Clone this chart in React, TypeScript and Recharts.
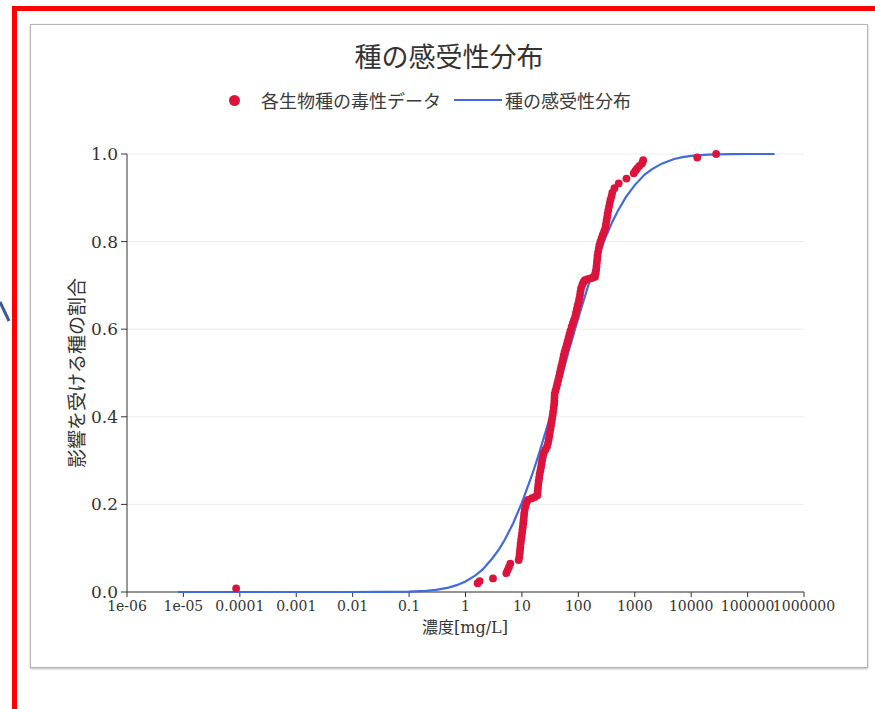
import React from 'react';
import {
  ScatterChart,
  Scatter,
  XAxis,
  YAxis,
  CartesianGrid,
  Legend,
} from 'recharts';

// ---- data ----
const xTicks = [1e-6, 1e-5, 1e-4, 1e-3, 0.01, 0.1, 1, 10, 100, 1000, 10000, 100000, 1000000];
const xTickLabels = ['1e-06', '1e-05', '0.0001', '0.001', '0.01', '0.1', '1', '10', '100', '1000', '10000', '100000', '1000000'];
const yTicks = [0, 0.2, 0.4, 0.6, 0.8, 1.0];
const yTickLabels = ['0.0', '0.2', '0.4', '0.6', '0.8', '1.0'];

const toxConc = [
  0.000086, 1.64, 1.78, 3.07, 5.29, 5.58, 5.9, 6.23, 8.75, 9.0, 9.12, 9.25, 9.38, 9.5, 9.68, 9.85,
  10.05, 10.2, 10.4, 10.55, 10.7, 10.85, 11.0, 11.2, 11.5, 12.0, 12.8, 15.0, 17.0, 18.8,
  19.0, 19.2, 19.5, 19.8, 20.2, 20.6, 21.2, 21.8, 22.3, 22.8, 23.5, 24.3, 26.0, 27.9,
  29.0, 29.8, 30.5, 31.2, 32.0, 32.8, 33.6, 34.4, 35.1, 35.8, 36.5, 37.2, 37.6, 37.8,
  38.0, 39.5, 41.0, 42.5, 44.0, 45.5, 47.0, 48.5, 50.0, 52.0, 53.5, 55.0, 57.0, 59.5,
  62.0, 64.5, 67.0, 69.5, 72.3, 76.0, 80.0, 84.0, 88.6, 91.0, 94.0, 97.0, 101, 104, 107,
  109, 112, 118, 124, 130, 145, 164, 182, 197, 203, 207, 210, 213, 216, 219, 224, 230,
  236, 246, 258, 272, 287, 302, 309, 316, 324, 331, 340, 350, 360, 372, 388, 400, 436,
  520, 712, 959, 1028, 1102, 1211, 1352, 1409, 12790, 27700,
];
const toxFrac = [
  0.008, 0.02, 0.025, 0.031, 0.043, 0.05, 0.057, 0.065, 0.073, 0.08, 0.088, 0.095, 0.103, 0.111, 0.119, 0.126,
  0.134, 0.142, 0.149, 0.157, 0.164, 0.172, 0.18, 0.188, 0.195, 0.203, 0.21, 0.214, 0.217, 0.221,
  0.229, 0.237, 0.245, 0.253, 0.261, 0.269, 0.277, 0.285, 0.293, 0.301, 0.309, 0.317, 0.325, 0.332,
  0.34, 0.348, 0.356, 0.364, 0.372, 0.38, 0.388, 0.396, 0.404, 0.412, 0.42, 0.428, 0.436, 0.444,
  0.452, 0.46, 0.468, 0.476, 0.484, 0.492, 0.5, 0.508, 0.516, 0.524, 0.532, 0.54, 0.548, 0.556,
  0.564, 0.572, 0.58, 0.588, 0.596, 0.606, 0.614, 0.622, 0.63, 0.638, 0.646, 0.654, 0.662, 0.67, 0.678,
  0.686, 0.694, 0.702, 0.708, 0.712, 0.714, 0.716, 0.718, 0.72, 0.728, 0.736, 0.744, 0.752, 0.76, 0.768, 0.776, 0.784,
  0.792, 0.8, 0.808, 0.816, 0.824, 0.832, 0.84, 0.848, 0.856, 0.864, 0.872, 0.88, 0.888, 0.896, 0.904, 0.912, 0.922,
  0.933, 0.944, 0.956, 0.962, 0.967, 0.973, 0.979, 0.986, 0.992, 1.0,
];

const curveConc = [
  0.000008, 0.0001, 0.001, 0.01, 0.03, 0.05, 0.1, 0.2, 0.3, 0.5, 0.7, 1, 1.5, 2, 3, 4, 5, 7, 10, 15, 20, 30,
  40, 50, 70, 100, 150, 200, 300, 400, 500, 700, 1000, 1500, 2000, 3000, 5000, 7000, 10000, 20000, 30000,
  50000, 100000, 300000,
];
const curveFrac = [
  0, 0, 0, 0, 0.0002, 0.0003, 0.0009, 0.0027, 0.005, 0.01, 0.0156, 0.024, 0.038, 0.051, 0.077, 0.099, 0.12, 0.157, 0.204, 0.266, 0.315, 0.39,
  0.446, 0.49, 0.557, 0.626, 0.7, 0.748, 0.808, 0.845, 0.87, 0.902, 0.929, 0.953, 0.965, 0.978, 0.9885, 0.9927, 0.9956, 0.9985, 0.9992,
  0.9997, 1, 1,
];

const toxData = toxConc.map((x, i) => ({ x, y: toxFrac[i] }));
const curveData = curveConc.map((x, i) => ({ x, y: curveFrac[i] }));

const TITLE = '種の感受性分布';
const SERIES_POINTS = '各生物種の毒性データ';
const SERIES_CURVE = '種の感受性分布';
const X_LABEL = '濃度[mg/L]';
const Y_LABEL = '影響を受ける種の割合';

const RED = '#DC143C';
const BLUE = '#4169E1';
const CJK = '"Noto Sans CJK JP", "Noto Sans", sans-serif';
const SERIF = '"DejaVu Serif", "Noto Sans CJK JP", serif';

const Dot = (props: any) => {
  const { cx, cy } = props;
  if (cx == null || cy == null) return <g />;
  return <circle cx={cx} cy={cy} r={3.9} fill={RED} />;
};

const NoDot = () => <g />;

const renderLegend = () => (
  <div style={{ position: 'relative', width: 875, height: 26, fontFamily: CJK, fontSize: 18, color: '#3a3a3a' }}>
    <div style={{ position: 'absolute', left: 229, top: 8, width: 11, height: 11, borderRadius: 6, background: RED }} />
    <div style={{ position: 'absolute', left: 261, top: 0, lineHeight: '26px', whiteSpace: 'nowrap' }}>{SERIES_POINTS}</div>
    <div style={{ position: 'absolute', left: 454, top: 12, width: 48, height: 2, background: BLUE }} />
    <div style={{ position: 'absolute', left: 505, top: 0, lineHeight: '26px', whiteSpace: 'nowrap' }}>{SERIES_CURVE}</div>
  </div>
);

export default function App() {
  return (
    <div style={{ position: 'absolute', left: 0, top: 0, width: 875, height: 709, background: '#fff', overflow: 'hidden' }}>
      {/* outer red frame */}
      <div style={{ position: 'absolute', left: 12, top: 6, width: 875, height: 720, borderTop: '5px solid #FF0000', borderLeft: '5px solid #FF0000', boxSizing: 'border-box' }} />
      <svg style={{ position: 'absolute', left: 0, top: 0 }} width={20} height={340}>
        <line x1={0} y1={302} x2={9} y2={321} stroke="#3A5A98" strokeWidth={3} />
      </svg>
      {/* chart box */}
      <div style={{ position: 'absolute', left: 30, top: 24, width: 838, height: 644, border: '1px solid #b5b5b5', boxShadow: '0 1px 2px #bbb', boxSizing: 'border-box', background: '#fff' }} />
      <div style={{ position: 'absolute', left: 0, top: 38, width: 898, textAlign: 'center', fontFamily: CJK, fontSize: 27, color: '#333', lineHeight: '36px' }}>
        {TITLE}
      </div>
      <div style={{ position: 'absolute', left: 0, top: 0 }}>
        <ScatterChart width={875} height={709} margin={{ top: 154, right: 71, bottom: 77, left: 67 }}>
          <CartesianGrid vertical={false} stroke="#ececec" />
          <XAxis
            dataKey="x"
            type="number"
            scale="log"
            domain={[1e-6, 1e6]}
            allowDataOverflow
            ticks={xTicks}
            interval={0}
            height={40}
            tickSize={5}
            tickMargin={4}
            stroke="#333"
            tick={{ fontSize: 14, fontFamily: SERIF, fill: '#333' }}
            tickFormatter={(v: number) => {
              const i = xTicks.findIndex((t) => Math.abs(Math.log10(t) - Math.log10(v)) < 1e-6);
              return i >= 0 ? xTickLabels[i] : String(v);
            }}
            label={{
              content: () => (
                <text x={465} y={627} textAnchor="middle" dominantBaseline="central" fontFamily={SERIF} fontSize={16} fill="#333">
                  {X_LABEL}
                </text>
              ),
            }}
          />
          <YAxis
            dataKey="y"
            type="number"
            domain={[0, 1]}
            ticks={yTicks}
            interval={0}
            width={60}
            tickSize={6}
            tickMargin={3}
            stroke="#333"
            tick={{ fontSize: 17, fontFamily: SERIF, fill: '#333' }}
            tickFormatter={(v: number) => {
              const i = yTicks.findIndex((t) => Math.abs(t - v) < 1e-9);
              return i >= 0 ? yTickLabels[i] : String(v);
            }}
            label={{
              content: () => (
                <text
                  x={75}
                  y={373}
                  transform="rotate(-90 75 373)"
                  textAnchor="middle"
                  dominantBaseline="central"
                  fontFamily={CJK}
                  fontSize={19}
                  fill="#333"
                >
                  {Y_LABEL}
                </text>
              ),
            }}
          />
          <Legend
            layout="vertical"
            verticalAlign="middle"
            align="center"
            content={renderLegend}
            wrapperStyle={{ position: 'absolute', left: 0, top: 87, width: 875, height: 26 }}
          />
          <Scatter
            name={SERIES_CURVE}
            data={curveData}
            line={{ stroke: BLUE, strokeWidth: 2.2 }}
            lineType="joint"
            shape={NoDot}
            isAnimationActive={false}
          />
          <Scatter name={SERIES_POINTS} data={toxData} shape={Dot} isAnimationActive={false} />
        </ScatterChart>
      </div>
    </div>
  );
}
